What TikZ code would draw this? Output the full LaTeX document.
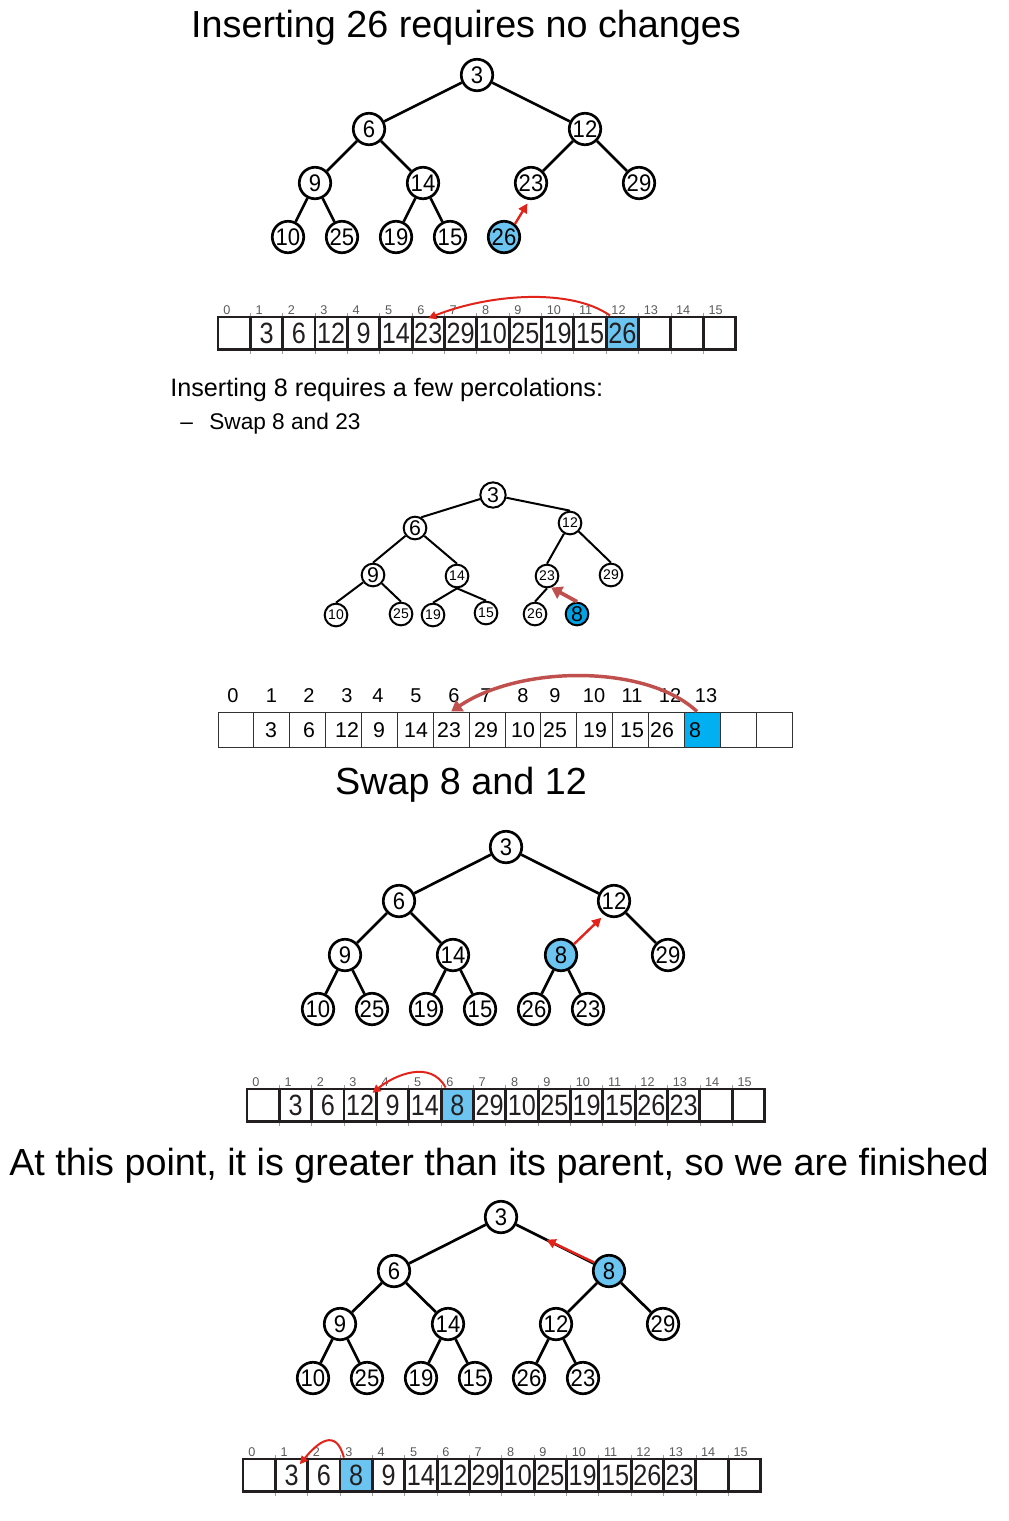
\documentclass[tikz,border=0pt]{standalone}
\usepackage{fontspec}
\setmainfont{Liberation Sans}
\newfontfamily\cellfont[FakeStretch=0.86]{Liberation Sans}
\newfontfamily\treefont[FakeStretch=0.92]{Liberation Sans}
\usetikzlibrary{arrows.meta,calc}
\definecolor{lblue}{RGB}{108,197,240}
\definecolor{cblue}{RGB}{0,176,240}
\definecolor{dblue}{RGB}{0,162,228}
\definecolor{redA}{RGB}{226,35,26}
\definecolor{brownA}{RGB}{192,80,77}
\definecolor{cellc}{RGB}{35,31,32}
\definecolor{idxc}{RGB}{90,90,90}
\tikzset{
  title/.style={inner sep=0pt, font=\fontsize{28.3}{34}\selectfont},
  tnode/.style={circle, draw=black, line width=2pt, fill=white, minimum size=23.6pt, inner sep=0pt, font=\treefont\fontsize{18}{18}\selectfont},
  tedge/.style={line width=2pt},
  redarr/.style={draw=redA, line width=1.8pt, -{Triangle[length=7pt,width=7pt]}},
  rarrcell/.style={draw=redA, line width=1.5pt, -{Triangle[length=6pt,width=6pt]}},
  snode/.style={circle, draw=black, line width=1.5pt, fill=white, minimum size=17pt, inner sep=0pt, font=\fontsize{10.5}{10.5}\selectfont},
  sbig/.style={font=\fontsize{16}{16}\selectfont},
  sedge/.style={line width=1.5pt},
  brownarr/.style={draw=brownA, line width=2.8pt, -{Triangle[length=8pt,width=10pt]}},
  cell/.style={draw=cellc, line width=2.2pt, minimum width=24.3pt, minimum height=24.4pt, inner sep=0pt, text=cellc, font=\cellfont\fontsize{22}{22}\selectfont},
  tick/.style={draw=idxc!60, line width=0.6pt},
  idx/.style={inner sep=0pt, text=idxc, font=\fontsize{9.5}{10}\selectfont},
  tcell/.style={draw=black!80, line width=0.75pt, minimum width=26.9pt, minimum height=26.25pt, inner sep=0pt},
  tval/.style={inner sep=0pt, font=\fontsize{16}{16}\selectfont},
  tidx/.style={inner sep=0pt, font=\fontsize{15}{15}\selectfont},
  body/.style={inner sep=0pt, anchor=base west}
}
\newcommand\heaparr[4]{%
  \foreach \k in {1,...,15} {\draw[tick] ({#2+32.35*\k},#3-4) -- ({#2+32.35*\k},#3+37);}
  \foreach \v/\c [count=\i from 0] in {#4} {\node[cell, fill=\c] (#1c\i) at ({#2+32.35*(\i+0.5)},#3+16.25) {\v};}
  \foreach \i in {0,...,15} {\node[idx, anchor=base west] (#1l\i) at ({#2+32.35*\i+5},#3-3) {\i};}
}
\begin{document}
\begin{tikzpicture}[x=0.75pt,y=-0.75pt]
\useasboundingbox (0,0) rectangle (1008,1521);

% ---------- Section 1 ----------
\node[title, anchor=base] (title1) at (466,37) {Inserting 26 requires no changes};

\node[tnode] (t1n3) at (477,75) {3};
\node[tnode] (t1n6) at (369,129) {6};
\node[tnode] (t1n12) at (585,129) {12};
\node[tnode] (t1n9) at (315,183) {9};
\node[tnode] (t1n14) at (423,183) {14};
\node[tnode] (t1n23) at (531,183) {23};
\node[tnode] (t1n29) at (639,183) {29};
\node[tnode] (t1n10) at (288,237) {10};
\node[tnode] (t1n25) at (342,237) {25};
\node[tnode] (t1n19) at (396,237) {19};
\node[tnode] (t1n15) at (450,237) {15};
\node[tnode, fill=lblue] (t1n26) at (504,237) {26};
\draw[tedge] (t1n3) -- (t1n6);
\draw[tedge] (t1n3) -- (t1n12);
\draw[tedge] (t1n6) -- (t1n9);
\draw[tedge] (t1n6) -- (t1n14);
\draw[tedge] (t1n12) -- (t1n23);
\draw[tedge] (t1n12) -- (t1n29);
\draw[tedge] (t1n9) -- (t1n10);
\draw[tedge] (t1n9) -- (t1n25);
\draw[tedge] (t1n14) -- (t1n19);
\draw[tedge] (t1n14) -- (t1n15);
\draw[redarr, shorten >=3pt] (t1n26.50) -- (t1n23.265);

\heaparr{a1}{218}{317}{{}/white,3/white,6/white,12/white,9/white,14/white,23/white,29/white,10/white,25/white,19/white,15/white,26/lblue,{}/white,{}/white,{}/white}
\draw[rarrcell] ([xshift=4pt]a1c12.north west) .. controls +(-40,-28) and +(60,-24) .. ([yshift=-2pt]a1c6.north);

% ---------- Section 2 ----------
\node[body, font=\fontsize{18.9}{22}\selectfont] (txt1) at (170,396) {Inserting 8 requires a few percolations:};
\node[body, font=\fontsize{17}{20}\selectfont] (dash1) at (180,429) {–};
\node[body, font=\fontsize{17}{20}\selectfont] (txt2) at (209,429) {Swap 8 and 23};

\node[snode, sbig, minimum size=19pt] (t2n3) at (493,495) {3};
\node[snode, sbig] (t2n6) at (415,528) {6};
\node[snode] (t2n12) at (570,523) {12};
\node[snode, sbig] (t2n9) at (373,575) {9};
\node[snode] (t2n14) at (457,576) {14};
\node[snode] (t2n23) at (547,576) {23};
\node[snode] (t2n29) at (611,575) {29};
\node[snode] (t2n10) at (336,615) {10};
\node[snode] (t2n25) at (401,614) {25};
\node[snode] (t2n19) at (433,615) {19};
\node[snode] (t2n15) at (486,613) {15};
\node[snode] (t2n26) at (535,614) {26};
\node[snode, sbig, fill=dblue] (t2n8) at (577,614) {8};
\draw[sedge] (t2n3) -- (t2n6.60);
\draw[sedge] (t2n3) -- (t2n12.north);
\draw[sedge] (t2n6) -- (t2n9.north);
\draw[sedge] (t2n6) -- (t2n14.north);
\draw[sedge] (t2n12) -- (t2n23.north);
\draw[sedge] (t2n12) -- (t2n29.north);
\draw[sedge] (t2n9) -- (t2n10.north);
\draw[sedge] (t2n9) -- (t2n25.north);
\draw[sedge] (t2n14.south) -- (t2n19.north);
\draw[sedge] (t2n14.south) -- (t2n15.north);
\draw[sedge] (t2n23.south) -- (t2n26.north);
\draw[brownarr] (t2n8.north) -- (t2n23.290);

\foreach \c [count=\i from 0] in {white,white,white,white,white,white,white,white,white,white,white,white,white,cblue,white,white} {
  \node[tcell, fill=\c] (a2c\i) at ({218+35.875*(\i+0.5)},729.5) {};
}
\foreach \v/\x [count=\i] in {3/271,6/309,12/347,9/379,14/416,23/449,29/486,10/523,25/555,19/595,15/632,26/662,8/695} {
  \node[tval] (a2v\i) at (\x,730) {\v};
}
\foreach \v/\x in {0/233,1/271.5,2/309,3/347,4/378,5/416,6/454,7/486,8/523,9/555,10/594,11/632,12/670,13/706} {
  \node[tidx, anchor=base] (a2l\v) at (\x,702) {\v};
}
\draw[brownA, line width=2.6pt, -{Triangle[length=8pt,width=10pt]}] ([xshift=-4pt]a2c13.north) .. controls +(-50,-47) and +(70,-47) .. (a2c6.north);

% ---------- Section 3 ----------
\node[title, anchor=base] (title2) at (461,794) {Swap 8 and 12};

\node[tnode] (t3n3) at (506,847) {3};
\node[tnode] (t3n6) at (399,901) {6};
\node[tnode] (t3n12) at (614,901) {12};
\node[tnode] (t3n9) at (345,955) {9};
\node[tnode] (t3n14) at (453,955) {14};
\node[tnode, fill=lblue] (t3n8) at (561,955) {8};
\node[tnode] (t3n29) at (668,955) {29};
\node[tnode] (t3n10) at (318,1009) {10};
\node[tnode] (t3n25) at (372,1009) {25};
\node[tnode] (t3n19) at (426,1009) {19};
\node[tnode] (t3n15) at (480,1009) {15};
\node[tnode] (t3n26) at (534,1009) {26};
\node[tnode] (t3n23) at (588,1009) {23};
\draw[tedge] (t3n3) -- (t3n6);
\draw[tedge] (t3n3) -- (t3n12);
\draw[tedge] (t3n6) -- (t3n9);
\draw[tedge] (t3n6) -- (t3n14);
\draw[tedge] (t3n12) -- (t3n29);
\draw[tedge] (t3n9) -- (t3n10);
\draw[tedge] (t3n9) -- (t3n25);
\draw[tedge] (t3n14) -- (t3n19);
\draw[tedge] (t3n14) -- (t3n15);
\draw[tedge] (t3n8) -- (t3n26);
\draw[tedge] (t3n8) -- (t3n23);
\draw[redarr, shorten >=3pt] (t3n8.40) -- (t3n12.235);

\heaparr{a3}{247}{1089}{{}/white,3/white,6/white,12/white,9/white,14/white,8/lblue,29/white,10/white,25/white,19/white,15/white,26/white,23/white,{}/white,{}/white}
\draw[rarrcell] ([xshift=4.5pt]a3c6.north west) .. controls +(-15,-28) and +(22,-18) .. ([xshift=-4pt,yshift=-4pt]a3c3.north east);

% ---------- Section 4 ----------
\node[title, anchor=base] (title3) at (499,1175) {At this point, it is greater than its parent, so we are finished};

\node[tnode] (t4n3) at (501,1217) {3};
\node[tnode] (t4n6) at (394,1271) {6};
\node[tnode, fill=lblue] (t4n8) at (609,1271) {8};
\node[tnode] (t4n9) at (340,1324) {9};
\node[tnode] (t4n14) at (448,1324) {14};
\node[tnode] (t4n12) at (556,1324) {12};
\node[tnode] (t4n29) at (663,1324) {29};
\node[tnode] (t4n10) at (313,1378) {10};
\node[tnode] (t4n25) at (367,1378) {25};
\node[tnode] (t4n19) at (421,1378) {19};
\node[tnode] (t4n15) at (475,1378) {15};
\node[tnode] (t4n26) at (529,1378) {26};
\node[tnode] (t4n23) at (583,1378) {23};
\draw[tedge] (t4n3) -- (t4n6);
\draw[tedge] (t4n3) -- (t4n8);
\draw[tedge] (t4n6) -- (t4n9);
\draw[tedge] (t4n6) -- (t4n14);
\draw[tedge] (t4n8) -- (t4n12);
\draw[tedge] (t4n8) -- (t4n29);
\draw[tedge] (t4n9) -- (t4n10);
\draw[tedge] (t4n9) -- (t4n25);
\draw[tedge] (t4n14) -- (t4n19);
\draw[tedge] (t4n14) -- (t4n15);
\draw[tedge] (t4n12) -- (t4n26);
\draw[tedge] (t4n12) -- (t4n23);
\coordinate (m4) at ($(t4n3)!0.42!(t4n8)$);
\draw[redarr] (t4n8.150) -- (m4);

\heaparr{a4}{243}{1459}{{}/white,3/white,6/white,8/lblue,9/white,14/white,12/white,29/white,10/white,25/white,19/white,15/white,26/white,23/white,{}/white,{}/white}
\draw[rarrcell] ([xshift=4pt]a4c3.north west) .. controls +(-8,-30) and +(18,-22) .. ([xshift=-7pt,yshift=-5pt]a4c1.north east);

\end{tikzpicture}
\end{document}
